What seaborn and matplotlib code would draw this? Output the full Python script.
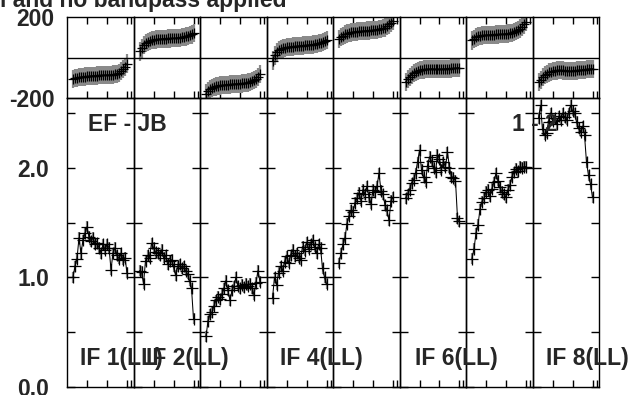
import matplotlib
matplotlib.use("Agg")
import matplotlib.pyplot as plt
import seaborn as sns

# ---------------- data ----------------
channels = list(range(3, 31))

amp_if1 = [1.00, 1.10, 1.17, 1.36, 1.22, 1.34, 1.40, 1.46, 1.37, 1.33, 1.36, 1.30, 1.31, 1.27,
           1.22, 1.30, 1.25, 1.30, 1.27, 1.07, 1.22, 1.27, 1.20, 1.17, 1.22, 1.16, 1.18, 1.04]
amp_if2 = [1.06, 1.05, 0.94, 1.15, 1.20, 1.18, 1.31, 1.27, 1.23, 1.22, 1.20, 1.25, 1.18, 1.20,
           1.12, 1.15, 1.16, 1.10, 1.02, 1.10, 1.12, 1.08, 1.10, 1.06, 1.03, 0.97, 0.90, 0.62]
amp_if3 = [0.46, 0.60, 0.66, 0.68, 0.74, 0.79, 0.82, 0.80, 0.85, 0.90, 0.97, 0.88, 0.79, 0.88,
           0.92, 1.00, 0.92, 0.90, 0.93, 0.91, 0.94, 0.92, 0.94, 0.90, 0.84, 0.95, 1.06, 0.96]
amp_if4 = [0.81, 1.00, 0.93, 1.04, 1.10, 1.06, 1.14, 1.19, 1.13, 1.20, 1.25, 1.19, 1.22, 1.18,
           1.16, 1.28, 1.24, 1.32, 1.26, 1.30, 1.34, 1.28, 1.22, 1.30, 1.27, 1.08, 1.00, 0.94]
amp_if5 = [1.13, 1.22, 1.30, 1.36, 1.49, 1.56, 1.61, 1.60, 1.68, 1.72, 1.77, 1.70, 1.80, 1.76,
           1.83, 1.73, 1.67, 1.80, 1.78, 1.83, 1.95, 1.79, 1.76, 1.66, 1.61, 1.52, 1.70, 1.73]
amp_if6 = [1.72, 1.76, 1.80, 1.86, 1.89, 1.95, 2.05, 2.16, 1.98, 1.92, 1.87, 2.02, 2.10, 2.06,
           2.00, 1.96, 2.12, 2.08, 1.98, 2.05, 2.01, 2.14, 2.00, 1.92, 1.91, 1.88, 1.54, 1.51]
amp_if7 = [1.17, 1.26, 1.40, 1.48, 1.62, 1.69, 1.72, 1.78, 1.80, 1.74, 1.81, 1.87, 1.95, 1.88,
           1.82, 1.78, 1.76, 1.73, 1.80, 1.84, 1.92, 1.96, 1.99, 1.97, 2.01, 2.00, 2.01, 2.01]
amp_if8 = [2.45, 2.57, 2.35, 2.30, 2.32, 2.42, 2.50, 2.43, 2.45, 2.40, 2.47, 2.44, 2.50, 2.46,
           2.44, 2.50, 2.57, 2.52, 2.50, 2.42, 2.36, 2.33, 2.38, 2.30, 2.05, 1.93, 1.85, 1.73]

phase_if1 = [-106, -103, -100, -98, -96, -95, -94, -93, -92, -91, -90, -90, -89, -88,
             -88, -87, -87, -86, -86, -85, -84, -83, -80, -76, -68, -58, -45, -30]
phase_if2 = [30, 45, 62, 72, 78, 82, 85, 87, 89, 90, 91, 92, 93, 93,
             94, 94, 95, 95, 96, 97, 98, 100, 102, 104, 107, 110, 114, 120]
phase_if3 = [-178, -165, -156, -150, -146, -143, -140, -138, -137, -136, -135, -134, -133, -132,
             -131, -130, -130, -129, -128, -127, -126, -124, -121, -117, -112, -105, -95, -80]
phase_if4 = [-15, 10, 28, 36, 42, 45, 48, 50, 52, 53, 54, 55, 56, 57,
             58, 59, 60, 61, 62, 63, 64, 66, 68, 70, 73, 77, 82, 88]
phase_if5 = [92, 100, 108, 114, 118, 121, 124, 126, 127, 128, 129, 130, 131, 132,
             133, 133, 134, 135, 136, 137, 139, 141, 144, 148, 155, 163, 172, 182]
phase_if6 = [-122, -108, -95, -85, -77, -71, -66, -63, -61, -59, -58, -57, -57, -56,
             -57, -58, -58, -57, -57, -56, -56, -55, -55, -54, -53, -52, -51, -50]
phase_if7 = [84, 92, 99, 104, 107, 109, 110, 111, 112, 112, 113, 113, 114, 114,
             115, 115, 116, 117, 118, 120, 122, 125, 129, 135, 143, 152, 163, 175]
phase_if8 = [-120, -110, -98, -88, -80, -74, -70, -67, -65, -64, -63, -63, -64, -65,
             -66, -66, -67, -66, -65, -64, -63, -62, -61, -60, -58, -57, -56, -55]

amp_err = 0.05
phase_err = 45

if_labels = ["IF 1(LL)", "IF 2(LL)", "", "IF 4(LL)", "", "IF 6(LL)", "", "IF 8(LL)"]
phase_ticks = [-200, 200]
phase_ticklabels = ["-200", "200"]
amp_ticks = [0.0, 0.5, 1.0, 1.5, 2.0, 2.5]
amp_ticklabels = ["0.0", "", "1.0", "", "2.0", ""]
chan_ticks = [10, 20, 30, 32]
title_text = "l and no bandpass applied"
baseline_text = "EF - JB"
pol_text = "1 - 2"

amps = [amp_if1, amp_if2, amp_if3, amp_if4, amp_if5, amp_if6, amp_if7, amp_if8]
phases = [phase_if1, phase_if2, phase_if3, phase_if4, phase_if5, phase_if6, phase_if7, phase_if8]

# ---------------- style ----------------
sns.set_style("white")
plt.rcParams["font.family"] = ["Liberation Sans", "DejaVu Sans"]
plt.rcParams["font.weight"] = "bold"

W, H = 636, 395
fig = plt.figure(figsize=(W / 100, H / 100), dpi=100)

x0, pw = 67.0, 66.5
top_y0, top_y1 = 17.0, 98.0
bot_y0, bot_y1 = 98.0, 386.75
FS = 16.5
ERRC = "#8a8a8a"
LW = 0.75

for i in range(8):
    left = (x0 + i * pw) / W
    axp = fig.add_axes([left, 1 - top_y1 / H, pw / W, (top_y1 - top_y0) / H])
    axa = fig.add_axes([left, 1 - bot_y1 / H, pw / W, (bot_y1 - bot_y0) / H])

    # phase
    axp.errorbar(channels, phases[i], yerr=phase_err, fmt="none", ecolor=ERRC,
                 elinewidth=1.6, capsize=0, zorder=1)
    sns.lineplot(x=channels, y=phases[i], ax=axp, color="black", lw=LW, marker="+",
                 markersize=7.5, markeredgewidth=0.9, markeredgecolor="black",
                 errorbar=None, zorder=2)
    axp.axhline(0, color="black", lw=1.0, zorder=3)
    axp.set_xlim(0, 33.25)
    axp.set_ylim(-200, 200)
    axp.set_xticks(chan_ticks)
    axp.tick_params(axis="x", direction="in", top=True, bottom=True, length=5, width=1,
                    labelbottom=False, color="black")
    if i == 0:
        axp.set_yticks(phase_ticks)
        axp.set_yticklabels(phase_ticklabels, fontsize=FS, fontweight="bold")
        axp.tick_params(axis="y", length=0, pad=9)
    else:
        axp.set_yticks([])
    axp.set_xlabel("")
    axp.set_ylabel("")

    # amplitude
    axa.errorbar(channels, amps[i], yerr=amp_err, fmt="none", ecolor=ERRC,
                 elinewidth=1.6, capsize=0, zorder=1)
    sns.lineplot(x=channels, y=amps[i], ax=axa, color="black", lw=LW, marker="+",
                 markersize=8, markeredgewidth=0.9, markeredgecolor="black",
                 errorbar=None, zorder=2)
    axa.set_xlim(0, 33.25)
    axa.set_ylim(0, 2.637)
    axa.set_xticks(chan_ticks)
    axa.tick_params(axis="x", direction="in", bottom=True, top=False, length=5, width=1,
                    labelbottom=False, color="black")
    axa.set_yticks(amp_ticks)
    axa.tick_params(axis="y", direction="in", left=True, right=True, length=6, width=1,
                    color="black", pad=13)
    if i == 0:
        axa.set_yticklabels(amp_ticklabels, fontsize=FS, fontweight="bold")
    else:
        axa.set_yticklabels([])
    axa.set_xlabel("")
    axa.set_ylabel("")

    for ax in (axp, axa):
        for sp in ax.spines.values():
            sp.set_color("black")
            sp.set_linewidth(1.0)
        ax.patch.set_alpha(0)

def ftext(x, y, s, **kw):
    fig.text(x / W, 1 - y / H, s, fontsize=FS, fontweight="bold", ha="left",
             va="baseline", zorder=10, **kw)

ftext(0, 7.5, title_text)
ftext(88.5, 130.7, baseline_text)
ftext(511.5, 130.7, pol_text)
label_x = [80.5, 145.5, None, 280.5, None, 414.5, None, 546.5]
for lab, lx in zip(if_labels, label_x):
    if lab:
        ftext(lx, 365, lab)

fig.savefig("out.png", dpi=100)
